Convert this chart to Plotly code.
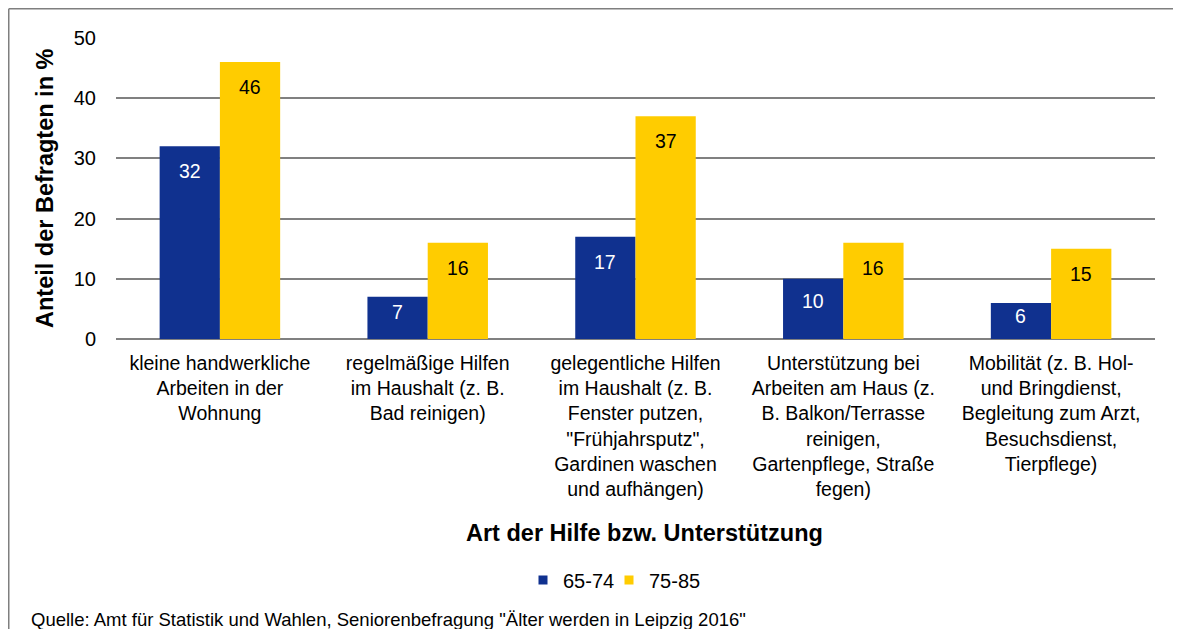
import plotly.graph_objects as go

categories = [
    "kleine handwerkliche<br>Arbeiten in der<br>Wohnung",
    "regelmäßige Hilfen<br>im Haushalt (z. B.<br>Bad reinigen)",
    "gelegentliche Hilfen<br>im Haushalt (z. B.<br>Fenster putzen,<br>\"Frühjahrsputz\",<br>Gardinen waschen<br>und aufhängen)",
    "Unterstützung bei<br>Arbeiten am Haus (z.<br>B. Balkon/Terrasse<br>reinigen,<br>Gartenpflege, Straße<br>fegen)",
    "Mobilität (z. B. Hol-<br>und Bringdienst,<br>Begleitung zum Arzt,<br>Besuchsdienst,<br>Tierpflege)",
]
series_names = ["65-74", "75-85"]
values_65_74 = [32, 7, 17, 10, 6]
values_75_85 = [46, 16, 37, 16, 15]
y_ticks = [0, 10, 20, 30, 40, 50]

FONT = "Liberation Sans, Arial, sans-serif"
BLUE = "#10318F"
YELLOW = "#FFCC00"

# page body has an 8px margin: work in reference coords and shift by 8
OFF = 8
W, H = 1165, 621
L = 116 - OFF
R = W - (1155 - OFF)
T = 38 - OFF
B = H - (339 - OFF)
pw = W - L - R
ph = H - T - B
Y_MAX = 50
px_per_unit = ph / Y_MAX


def px(x):
    return (x - OFF - L) / pw


def py(y):
    return (H - B - (y - OFF)) / ph


fig = go.Figure()
fig.add_trace(go.Bar(x=categories, y=values_65_74, name=series_names[0],
                     marker=dict(color=BLUE, line=dict(width=0)), showlegend=False))
fig.add_trace(go.Bar(x=categories, y=values_75_85, name=series_names[1],
                     marker=dict(color=YELLOW, line=dict(width=0)), showlegend=False))

# legend entries with small square symbols, one legend box per entry
legend_ids = ["legend", "legend2"]
for name, col, lid in zip(series_names, [BLUE, YELLOW], legend_ids):
    fig.add_trace(go.Scatter(x=[None], y=[None], mode="markers", name=name, legend=lid,
                             marker=dict(symbol="square", size=9, color=col)))

bargap = 0.42
bar_px = pw / len(categories) * (1 - bargap) / 2

# value labels, inside end of each bar
for vals, sign, tcol in [(values_65_74, -1, "white"), (values_75_85, 1, "black")]:
    for cat, v in zip(categories, vals):
        shift = min(25, 0.37 * v * px_per_unit)
        fig.add_annotation(x=cat, y=v, xref="x", yref="y", text=str(v), showarrow=False,
                           xshift=sign * bar_px / 2, yshift=-shift,
                           xanchor="center", yanchor="middle",
                           font=dict(size=19.5, color=tcol, family=FONT))

legend_common = dict(orientation="h", xanchor="left", y=py(580), yanchor="middle",
                     font=dict(size=20, family=FONT), itemwidth=30,
                     bgcolor="rgba(0,0,0,0)", borderwidth=0)

fig.update_layout(
    width=W, height=H,
    margin=dict(l=L, r=R, t=T, b=B),
    paper_bgcolor="white", plot_bgcolor="white",
    barmode="group", bargap=bargap, bargroupgap=0,
    font=dict(family=FONT, size=19, color="black"),
    showlegend=True,
    legend=dict(x=px(523), **legend_common),
    legend2=dict(x=px(609), **legend_common),
)
fig.update_xaxes(
    tickfont=dict(size=19.5, family=FONT), showgrid=False, showline=False,
    ticks="", ticklabelstandoff=10, tickangle=0,
)
fig.update_yaxes(
    range=[0, Y_MAX], tickvals=y_ticks, showgrid=True, gridcolor="#808080", gridwidth=2,
    zeroline=True, zerolinecolor="#808080", zerolinewidth=2, showline=False,
    tickfont=dict(size=20, family=FONT), ticks="", ticklabelstandoff=19,
)

fig.add_annotation(text="<b>Anteil der Befragten in %</b>", xref="paper", yref="paper",
                   x=px(45), y=py(188), textangle=-90, showarrow=False,
                   font=dict(size=23.5, family=FONT), xanchor="center", yanchor="middle")
fig.add_annotation(text="<b>Art der Hilfe bzw. Unterstützung</b>", xref="paper", yref="paper",
                   x=px(644), y=py(533), showarrow=False,
                   font=dict(size=23.5, family=FONT), xanchor="center", yanchor="middle")
fig.add_annotation(text="Quelle: Amt für Statistik und Wahlen, Seniorenbefragung \"Älter werden in Leipzig 2016\"",
                   xref="paper", yref="paper", x=px(29), y=py(OFF + H), yshift=-3, showarrow=False,
                   font=dict(size=18.5, family=FONT), xanchor="left", yanchor="bottom")

# outer frame (top and left edges; others run off the picture)
frame = dict(color="#7F7F7F", width=1.5)
fig.add_shape(type="line", xref="paper", yref="paper",
              x0=px(OFF + 0.75), x1=px(OFF + W), y0=py(OFF + 0.75), y1=py(OFF + 0.75), line=frame)
fig.add_shape(type="line", xref="paper", yref="paper",
              x0=px(OFF + 0.75), x1=px(OFF + 0.75), y0=py(OFF + 0.75), y1=py(OFF + H), line=frame)

fig.write_html("out.html")
